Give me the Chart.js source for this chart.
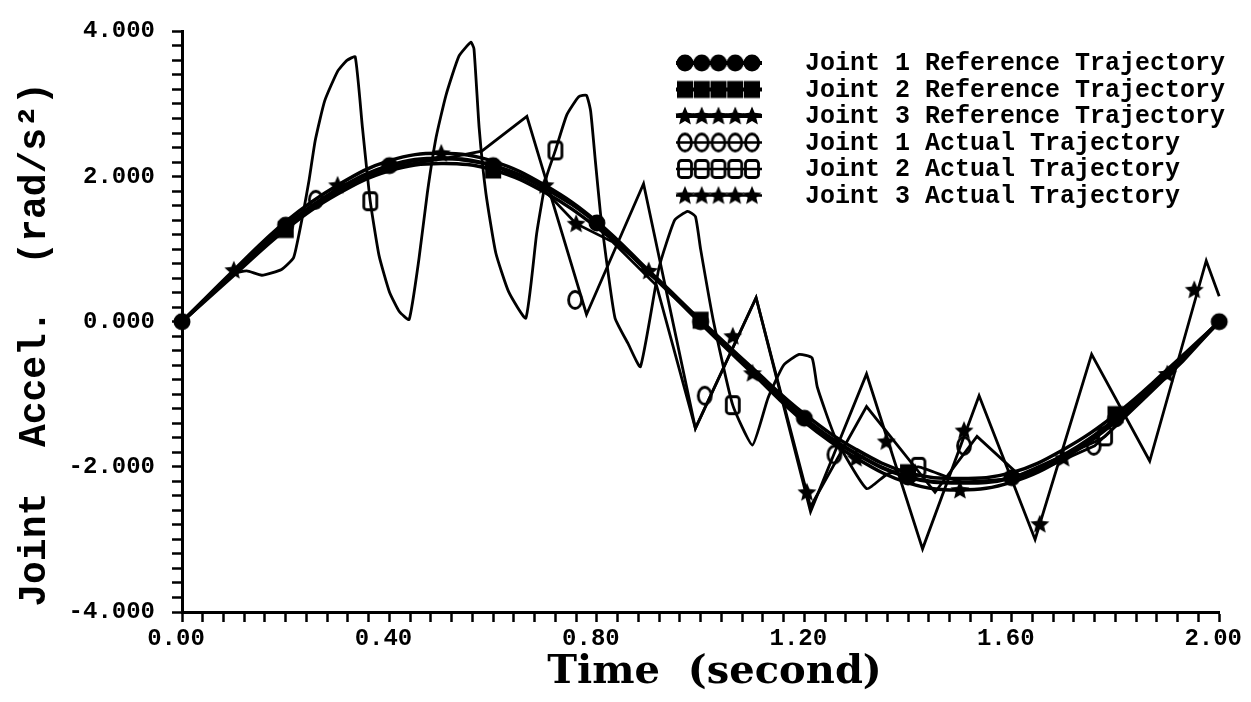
<!DOCTYPE html>
<html lang="en">
<head>
  <meta charset="UTF-8">
  <title>Joint Acceleration</title>
  <script src="https://cdn.jsdelivr.net/npm/chart.js"></script>
  <style>
    html, body { margin: 0; padding: 0; background: #fff; }
  </style>
</head>
<body>
  <canvas id="grafico" width="1251" height="702"></canvas>

  <script>
    // reference trajectories, sampled every 0.1 s
    const tRef = [0, 0.1, 0.2, 0.3, 0.4, 0.5, 0.6, 0.7, 0.8, 0.9, 1.0, 1.1, 1.2, 1.3, 1.4, 1.5, 1.6, 1.7, 1.8, 1.9, 2.0];
    const ref1 = [0, 0.68, 1.33, 1.82, 2.15, 2.25, 2.15, 1.84, 1.36, 0.68, 0.0, -0.68, -1.33, -1.82, -2.14, -2.22, -2.15, -1.84, -1.34, -0.70, 0];
    const ref2 = [0, 0.64, 1.27, 1.76, 2.08, 2.18, 2.09, 1.78, 1.30, 0.70, 0.02, -0.64, -1.27, -1.76, -2.08, -2.16, -2.08, -1.76, -1.28, -0.66, 0];
    const ref3 = [0, 0.71, 1.38, 1.88, 2.22, 2.32, 2.21, 1.88, 1.38, 0.70, -0.02, -0.71, -1.38, -1.88, -2.22, -2.32, -2.21, -1.88, -1.38, -0.72, 0];

    // actual trajectories (vertices)
    const act1T = [0, 0.1, 0.2, 0.3, 0.4, 0.5, 0.578, 0.665, 0.78, 0.89, 0.99, 1.107, 1.212, 1.32, 1.452, 1.533, 1.62, 1.70, 1.76, 1.85, 1.93, 2.0];
    const act1V = [0, 0.67, 1.30, 1.80, 2.13, 2.24, 2.35, 2.83, 0.10, 1.90, -1.47, 0.33, -2.55, -1.17, -2.35, -1.58, -2.15, -1.90, -1.71, -1.10, -0.55, 0.0];

    const act2T = [0, 0.1, 0.125, 0.154, 0.192, 0.215, 0.226, 0.235, 0.245, 0.257, 0.275, 0.3, 0.318, 0.334, 0.348, 0.363, 0.38, 0.4, 0.419, 0.438,
                   0.457, 0.473, 0.49, 0.509, 0.534, 0.557, 0.563, 0.573, 0.586, 0.605, 0.63, 0.663, 0.684, 0.703, 0.72, 0.742, 0.765, 0.78,
                   0.788, 0.797, 0.807, 0.818, 0.835, 0.86, 0.884, 0.92, 0.95, 0.975, 0.99, 1.0, 1.025, 1.062, 1.10, 1.13, 1.16, 1.19, 1.215,
                   1.225, 1.26, 1.32, 1.36, 1.42, 1.5, 1.6, 1.7, 1.78, 1.9, 2.0];
    const act2V = [0, 0.66, 0.70, 0.64, 0.72, 0.88, 1.22, 1.55, 1.95, 2.50, 3.04, 3.45, 3.60, 3.65, 2.67, 1.66, 0.91, 0.41, 0.14, 0.03,
                   0.87, 1.77, 2.54, 3.12, 3.66, 3.85, 3.76, 2.67, 1.77, 0.95, 0.41, 0.05, 1.22, 2.00, 2.36, 2.85, 3.10, 3.12,
                   2.90, 2.22, 1.49, 0.87, 0.05, -0.30, -0.62, 0.75, 1.40, 1.52, 1.45, 1.00, 0.0, -1.15, -1.70, -1.05, -0.60, -0.45, -0.50,
                   -0.90, -1.60, -2.30, -2.10, -2.00, -2.20, -2.15, -1.84, -1.58, -0.70, 0.0];

    const act3T = [0, 0.1, 0.2, 0.3, 0.4, 0.5, 0.6, 0.7, 0.76, 0.83, 0.915, 0.99, 1.107, 1.212, 1.32, 1.428, 1.537, 1.645, 1.754, 1.866, 1.975, 2.0];
    const act3V = [0, 0.69, 1.34, 1.84, 2.16, 2.27, 2.16, 1.80, 1.35, 1.10, 0.50, -1.47, 0.33, -2.62, -0.72, -3.13, -1.02, -3.00, -0.45, -1.92, 0.84, 0.35];

    // marker positions on the actual trajectories
    const mark1T = [0.258, 0.758, 1.008, 1.258, 1.508, 1.758];
    const mark1V = [1.68, 0.30, -1.02, -1.83, -1.71, -1.71];
    const mark2T = [0.363, 0.72, 1.062, 1.42, 1.78];
    const mark2V = [1.66, 2.36, -1.15, -2.00, -1.58];
    const mark3T = [0.76, 1.062, 1.205, 1.358, 1.508, 1.654, 1.952];
    const mark3V = [1.35, -0.20, -2.35, -1.65, -1.50, -2.79, 0.44];

    const legendNames = [
      'Joint 1 Reference Trajectory',
      'Joint 2 Reference Trajectory',
      'Joint 3 Reference Trajectory',
      'Joint 1 Actual Trajectory',
      'Joint 2 Actual Trajectory',
      'Joint 3 Actual Trajectory'
    ];
    const legendMarks = ['dot', 'sq', 'star', 'ocirc', 'osq', 'star'];

    // ---- marker images ----
    function makeMarker(kind) {
      const c = document.createElement('canvas');
      c.width = 22; c.height = 22;
      const g = c.getContext('2d');
      const m = 11;
      g.fillStyle = '#000';
      g.strokeStyle = '#000';
      g.lineWidth = 2.8;
      if (kind === 'dot') {
        g.beginPath(); g.arc(m, m, 8.5, 0, Math.PI * 2); g.fill();
      } else if (kind === 'sq') {
        g.fillRect(m - 8, m - 8.5, 16, 17);
      } else if (kind === 'star') {
        g.beginPath();
        for (let k = 0; k < 10; k++) {
          const r = k % 2 === 0 ? 10 : 4.5;
          const a = -Math.PI / 2 + k * Math.PI / 5;
          const px = m + r * Math.cos(a), py = m + 0.5 + r * Math.sin(a);
          if (k === 0) g.moveTo(px, py); else g.lineTo(px, py);
        }
        g.closePath(); g.fill();
      } else if (kind === 'ocirc') {
        g.beginPath(); g.ellipse(m, m, 6.5, 8.5, 0, 0, Math.PI * 2); g.stroke();
      } else if (kind === 'osq') {
        g.beginPath(); g.roundRect(m - 6.5, m - 8.5, 13, 17, 3); g.stroke();
      }
      return c;
    }
    const markers = {};
    ['dot', 'sq', 'star', 'ocirc', 'osq'].forEach(k => { markers[k] = makeMarker(k); });

    const pts = (ts, vs) => ts.map((t, i) => ({ x: t, y: vs[i] }));

    function refSet(values, mark, every, offset, width) {
      return {
        data: pts(tRef, values),
        borderColor: '#000',
        borderWidth: width,
        tension: 0.4,
        pointStyle: markers[mark],
        pointRadius: ctx => (ctx.dataIndex % every === offset ? 8 : 0),
        pointHoverRadius: 0,
        order: 1,
        clip: false
      };
    }
    function actSet(ts, vs, tension) {
      return {
        data: pts(ts, vs),
        borderColor: '#000',
        borderWidth: 2.8,
        tension: tension,
        pointRadius: 0,
        order: 2,
        clip: false
      };
    }
    function markSet(ts, vs, mark) {
      return {
        data: pts(ts, vs),
        showLine: false,
        pointStyle: markers[mark],
        pointRadius: 8,
        order: 0,
        clip: false
      };
    }

    const legendPlugin = {
      id: 'sampleLegend',
      afterDraw(chart) {
        const ctx = chart.ctx;
        ctx.save();
        legendNames.forEach((name, i) => {
          const y = 63 + i * 26.5;
          ctx.strokeStyle = '#000';
          ctx.lineWidth = i < 3 ? 4 : 2.5;
          ctx.beginPath(); ctx.moveTo(676, y); ctx.lineTo(762, y); ctx.stroke();
          const img = markers[legendMarks[i]];
          for (let k = 0; k < 5; k++) {
            ctx.drawImage(img, 685 + k * 16.75 - img.width / 2, y - img.height / 2);
          }
          ctx.fillStyle = '#000';
          ctx.font = 'bold 25px "Liberation Mono"';
          ctx.textBaseline = 'middle';
          ctx.fillText(name, 805, y + 1);
        });
        ctx.restore();
      }
    };

    const isMajor = (v, step) => Math.abs(v / step - Math.round(v / step)) < 1e-6;

    new Chart(document.getElementById('grafico'), {
      type: 'line',
      data: {
        datasets: [
          refSet(ref1, 'dot', 2, 0, 4),
          refSet(ref2, 'sq', 4, 2, 3.5),
          refSet(ref3, 'star', 2, 1, 3.5),
          actSet(act1T, act1V, 0),
          actSet(act2T, act2V, 0.15),
          actSet(act3T, act3V, 0),
          markSet(mark1T, mark1V, 'ocirc'),
          markSet(mark2T, mark2V, 'osq'),
          markSet(mark3T, mark3V, 'star')
        ]
      },
      options: {
        responsive: false,
        animation: false,
        devicePixelRatio: 1,
        layout: { padding: { top: 22, right: 29, left: 0, bottom: 0 } },
        plugins: {
          legend: { display: false },
          tooltip: { enabled: false }
        },
        scales: {
          x: {
            type: 'linear',
            min: 0,
            max: 2,
            border: { display: true, color: '#000', width: 3 },
            grid: { drawOnChartArea: false, drawTicks: true, tickLength: 10, tickWidth: 2.5, tickColor: '#000' },
            ticks: {
              stepSize: 0.04,
              autoSkip: false,
              maxRotation: 0,
              padding: 3,
              labelOffset: -6,
              color: '#000',
              font: { family: 'Liberation Mono', weight: 'bold', size: 24 },
              callback: v => (isMajor(v, 0.4) ? v.toFixed(2) : '')
            },
            title: {
              display: true,
              text: '  Time  (second)',
              color: '#000',
              font: { family: 'DejaVu Serif', weight: 'bold', size: 40 },
              padding: { top: 0, bottom: 5 }
            },
            afterFit: s => { s.height = 90; }
          },
          y: {
            min: -4,
            max: 4,
            border: { display: true, color: '#000', width: 3 },
            grid: { drawOnChartArea: false, drawTicks: true, tickLength: 10, tickWidth: 2.5, tickColor: '#000' },
            ticks: {
              stepSize: 0.2,
              autoSkip: false,
              padding: 17,
              color: '#000',
              font: { family: 'Liberation Mono', weight: 'bold', size: 24 },
              callback: v => (isMajor(v, 2) ? v.toFixed(3) : '')
            },
            title: {
              display: true,
              text: 'Joint  Accel.  (rad/s²)  ',
              color: '#000',
              font: { family: 'Liberation Mono', weight: 'bold', size: 38 },
              padding: { top: 13, bottom: 0 }
            },
            afterFit: s => { s.width = 182; }
          }
        }
      },
      plugins: [legendPlugin]
    });
  </script>
</body>
</html>
